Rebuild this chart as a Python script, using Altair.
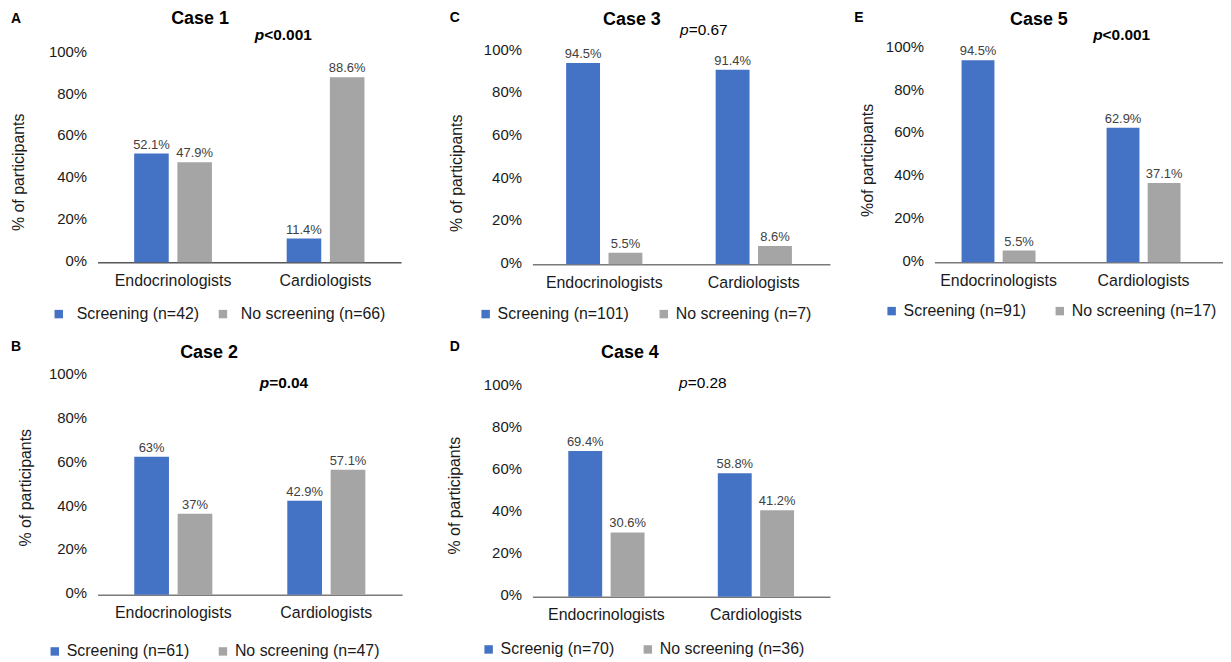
import altair as alt
import pandas as pd

# ---------------- data ----------------
specialties = ["Endocrinologists", "Cardiologists"]
panel_keys = ["A", "C", "E", "B", "D"]

case_titles = {"A": "Case 1", "B": "Case 2", "C": "Case 3", "D": "Case 4", "E": "Case 5"}

screening_pct = {"A": [52.1, 11.4], "B": [63.0, 42.9], "C": [94.5, 91.4],
                 "D": [69.4, 58.8], "E": [94.5, 62.9]}
no_screening_pct = {"A": [47.9, 88.6], "B": [37.0, 57.1], "C": [5.5, 8.6],
                    "D": [30.6, 41.2], "E": [5.5, 37.1]}

screening_labels = {"A": "Screening (n=42)", "B": "Screening (n=61)",
                    "C": "Screening (n=101)", "D": "Screenig (n=70)",
                    "E": "Screening (n=91)"}
no_screening_labels = {"A": "No screening (n=66)", "B": "No screening (n=47)",
                       "C": "No screening (n=7)", "D": "No screening (n=36)",
                       "E": "No screening (n=17)"}

p_texts = {"A": "<0.001", "B": "=0.04", "C": "=0.67", "D": "=0.28", "E": "<0.001"}
p_bold = {"A": True, "B": True, "C": False, "D": False, "E": True}

y_titles = {"A": "% of participants", "B": "% of participants",
            "C": "% of participants", "D": "% of participants",
            "E": "%of participants"}

y_ticks = [0, 20, 40, 60, 80, 100]

# ---------------- layout (pixels, relative to each panel's plot origin) ----------------
layout = {
    "A": dict(width=332, height=215, xrange=[0, 305], yrange=[215, 5], align=0.5,
              title=(103, -30), letter=(-82, -30), p=(167.5, -13), ytitle=(-79, 124),
              legend=(-47, 259), lab_off=10, col_pad=15,
              domain_color="#000000", domain_width=1),
    "B": dict(width=332, height=220, xrange=[0, 306], yrange=[220, 0], align=0.5,
              title=(112, -23), letter=(-82, -29), p=(172.5, 7), ytitle=(-72, 112),
              legend=(-51, 269), lab_off=4, col_pad=25,
              domain_color="#7a7a7a", domain_width=1.5),
    "C": dict(width=299, height=217, xrange=[0, 299], yrange=[217, 3], align=0.47,
              title=(100, -29), letter=(-78, -31), p=(157, -18), ytitle=(-76, 125),
              legend=(-55, 259), lab_off=4, col_pad=26,
              domain_color="#7a7a7a", domain_width=1.5),
    "D": dict(width=299, height=222, xrange=[0, 299], yrange=[222, 11], align=0.5,
              title=(98, -23), letter=(-78, -29), p=(156, 7), ytitle=(-78, 120),
              legend=(-52, 267), lab_off=4, col_pad=25,
              domain_color="#7a7a7a", domain_width=1.5),
    "E": dict(width=290, height=215, xrange=[0, 290], yrange=[215, 0], align=0.39,
              title=(105, -29), letter=(-76, -31), p=(169, -13), ytitle=(-67, 112),
              legend=(-51, 256), lab_off=4, col_pad=25,
              domain_color="#7a7a7a", domain_width=1.5),
}

BLUE = "#4472C4"
GRAY = "#A5A5A5"
FONT = "Liberation Sans"


def fmt(v):
    return f"{v:g}%"


def panel(k):
    L = layout[k]
    s_lab, n_lab = screening_labels[k], no_screening_labels[k]
    rows = []
    for i, sp in enumerate(specialties):
        rows.append({"specialty": sp, "group": s_lab, "value": screening_pct[k][i],
                     "label": fmt(screening_pct[k][i])})
        rows.append({"specialty": sp, "group": n_lab, "value": no_screening_pct[k][i],
                     "label": fmt(no_screening_pct[k][i])})
    df = pd.DataFrame(rows)

    x = alt.X("specialty:N", sort=specialties,
              scale=alt.Scale(range=L["xrange"], paddingInner=0.49, paddingOuter=0.24,
                              align=L["align"]),
              axis=alt.Axis(title=None, labelAngle=0, labelFontSize=16, labelColor="#1a1a1a",
                            labelFont=FONT, ticks=False, tickSize=0, labelPadding=10,
                            domainColor=L["domain_color"], domainWidth=L["domain_width"],
                            grid=False))
    xo = alt.XOffset("group:N", sort=[s_lab, n_lab],
                     scale=alt.Scale(paddingInner=0.2, paddingOuter=0))
    y = alt.Y("value:Q",
              scale=alt.Scale(domain=[0, 100], range=L["yrange"], nice=False, zero=True),
              axis=alt.Axis(title=y_titles[k], values=y_ticks,
                            labelExpr="datum.value + '%'", labelFontSize=15,
                            labelColor="#1a1a1a", labelFont=FONT, labelPadding=11,
                            labelOffset=-2,
                            ticks=False, tickSize=0, domain=False, grid=False,
                            titleFontSize=16, titleFontWeight="normal", titleFont=FONT,
                            titleColor="#1a1a1a", titleX=L["ytitle"][0], titleY=L["ytitle"][1],
                            titleAngle=270, titleAlign="center", titleBaseline="middle"))
    color = alt.Color("group:N",
                      scale=alt.Scale(domain=[s_lab, n_lab], range=[BLUE, GRAY]),
                      legend=alt.Legend(orient="none", legendX=L["legend"][0],
                                        legendY=L["legend"][1], direction="horizontal",
                                        title=None, symbolType="square", symbolSize=72,
                                        symbolStrokeWidth=0, labelFontSize=16,
                                        labelFont=FONT, labelColor="#1a1a1a",
                                        labelOffset=L["lab_off"],
                                        columnPadding=L["col_pad"], padding=0,
                                        labelLimit=400))

    bars = alt.Chart(df).mark_bar().encode(x=x, xOffset=xo, y=y, color=color)
    labels = alt.Chart(df).mark_text(baseline="bottom", dy=-2, fontSize=13,
                                     color="#404040", font=FONT).encode(
        x=x, xOffset=xo, y=y, text="label:N")

    title = alt.Chart(pd.DataFrame({"t": [case_titles[k]]})).mark_text(
        fontSize=18, fontWeight="bold", align="center", baseline="middle",
        color="#000000", font=FONT).encode(
        text="t:N", x=alt.value(L["title"][0]), y=alt.value(L["title"][1]))
    letter = alt.Chart(pd.DataFrame({"t": [k]})).mark_text(
        fontSize=14, fontWeight="bold", align="center", baseline="middle",
        color="#000000", font=FONT).encode(
        text="t:N", x=alt.value(L["letter"][0]), y=alt.value(L["letter"][1]))
    weight = "bold" if p_bold[k] else "normal"
    p_it = alt.Chart(pd.DataFrame({"t": ["p"]})).mark_text(
        fontSize=15.5, fontWeight=weight, fontStyle="italic", align="right",
        baseline="middle", color="#000000", font=FONT).encode(
        text="t:N", x=alt.value(L["p"][0]), y=alt.value(L["p"][1]))
    p_rest = alt.Chart(pd.DataFrame({"t": [p_texts[k]]})).mark_text(
        fontSize=15.5, fontWeight=weight, align="left",
        baseline="middle", color="#000000", font=FONT).encode(
        text="t:N", x=alt.value(L["p"][0]), y=alt.value(L["p"][1]))

    return alt.layer(bars, labels, title, letter, p_it, p_rest).properties(
        width=L["width"], height=L["height"])


chart = alt.concat(*[panel(k) for k in panel_keys], columns=3,
                   spacing={"row": 112, "column": 105}, bounds="flush").resolve_scale(
    color="independent", xOffset="independent", x="independent", y="independent"
).resolve_legend(color="independent").properties(
    padding={"left": 2, "top": 0, "right": 0, "bottom": 0}
).configure(font=FONT, background="white").configure_view(stroke=None)

chart.save("out.html", embed_options={"renderer": "svg", "actions": False})
